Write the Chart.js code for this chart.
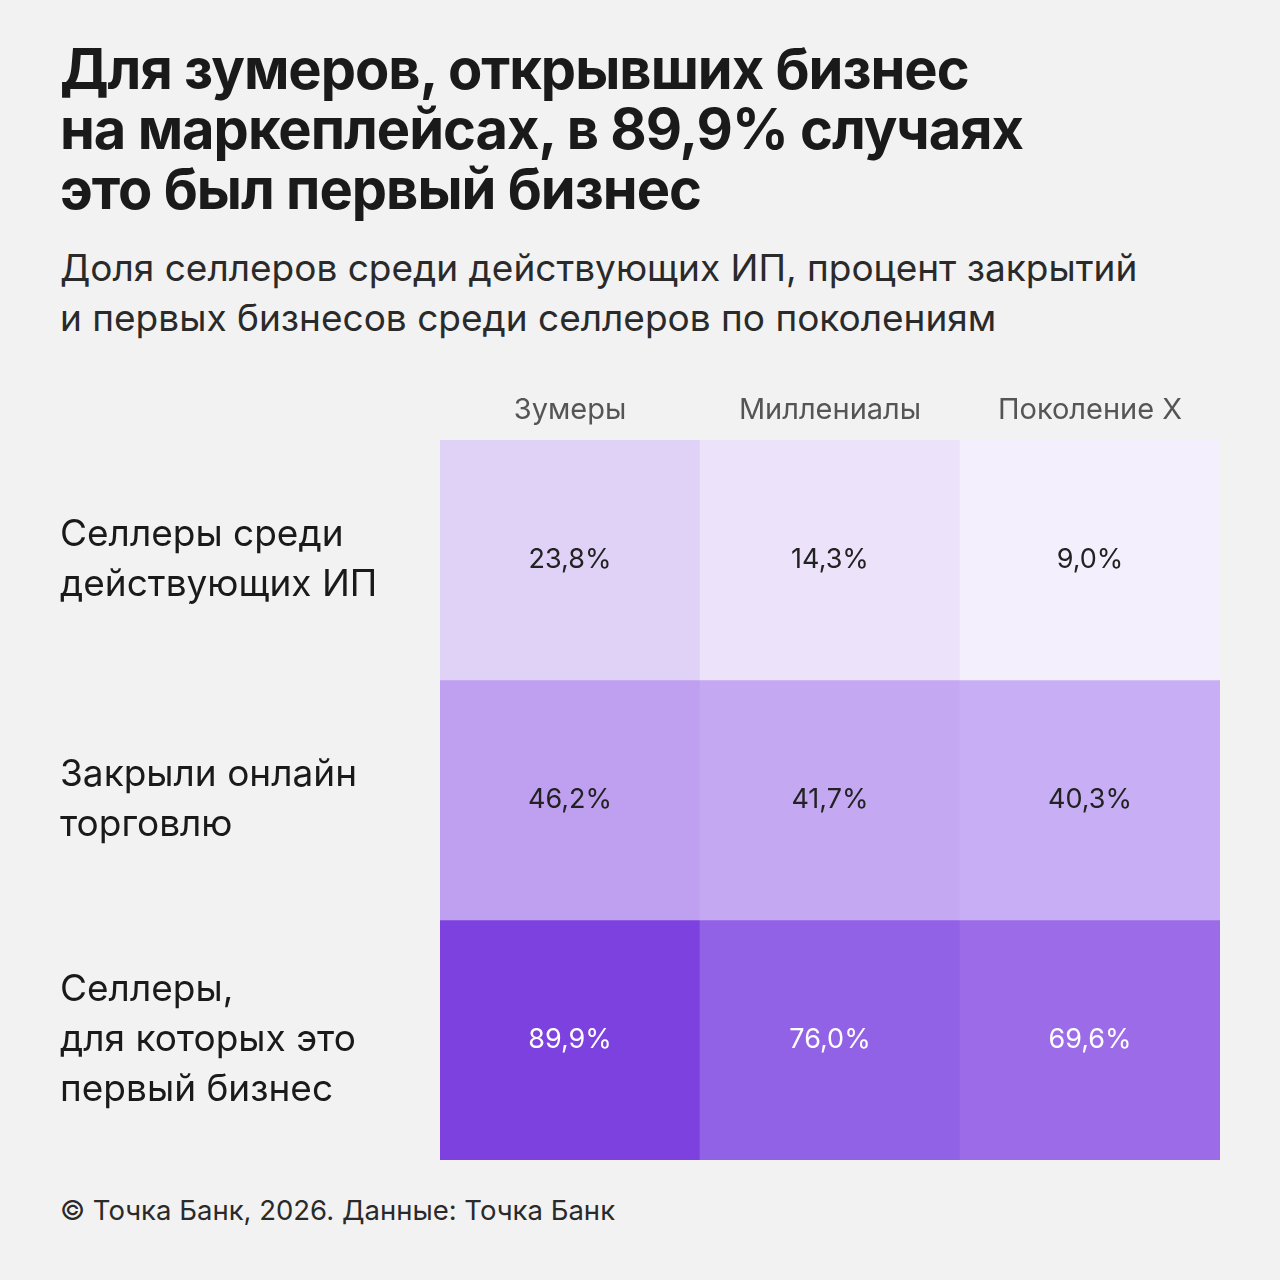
<!DOCTYPE html>
<html lang="ru">
<head>
<meta charset="utf-8">
<script src="https://cdn.jsdelivr.net/npm/chart.js@4"></script>
<style>
  html, body { margin: 0; padding: 0; background: #f2f2f2; }
  body { width: 1280px; height: 1280px; position: relative; overflow: hidden; font-family: Inter, "Noto Sans", sans-serif; color: #1a1a1a; }
  h1 { position: absolute; left: 60px; top: 39px; margin: 0; font-size: 56px; line-height: 60px; font-weight: 700; letter-spacing: -1px; }
  .sub { position: absolute; left: 60px; top: 243px; margin: 0; font-size: 37px; line-height: 50px; font-weight: 400; color: #2a2a2a; }
  .foot { position: absolute; left: 60px; top: 1190px; font-size: 27.5px; line-height: 40px; color: #2a2a2a; }
  #wrap { position: absolute; left: 0; top: 380px; width: 1280px; height: 780px; }
</style>
</head>
<body>
<h1>Для зумеров, открывших бизнес<br>на маркеплейсах, в 89,9% случаях<br>это был первый бизнес</h1>
<p class="sub">Доля селлеров среди действующих ИП, процент закрытий<br>и первых бизнесов среди селлеров по поколениям</p>
<div id="wrap"><canvas id="heat"></canvas></div>
<div class="foot">© Точка Банк, 2026. Данные: Точка Банк</div>
<script>
const generations = ['Зумеры', 'Миллениалы', 'Поколение X'];
const rowLabels = [
  ['Селлеры среди', 'действующих ИП'],
  ['Закрыли онлайн', 'торговлю'],
  ['Селлеры,', 'для которых это', 'первый бизнес']
];
const sellersShare = [23.8, 14.3, 9.0];
const closedShare = [46.2, 41.7, 40.3];
const firstBusiness = [89.9, 76.0, 69.6];
const rowColors = [
  ['#e0d1f7', '#ece3fa', '#f3effc'],
  ['#bf9ff0', '#c5a8f2', '#c8aef4'],
  ['#7c41de', '#9262e6', '#9c6ce8']
];
const textColors = ['#222222', '#222222', '#ffffff'];

const rows = [sellersShare, closedShare, firstBusiness];
const fmt = v => v.toFixed(1).replace('.', ',') + '%';

const cellLabels = {
  id: 'cellLabels',
  afterDatasetsDraw(chart) {
    const ctx = chart.ctx;
    ctx.save();
    ctx.font = '400 27px Inter, "Noto Sans", sans-serif';
    ctx.textAlign = 'center';
    ctx.textBaseline = 'middle';
    chart.data.datasets.forEach((ds, i) => {
      chart.getDatasetMeta(i).data.forEach((bar, j) => {
        const y = (bar.y + bar.base) / 2;
        ctx.fillStyle = textColors[i];
        ctx.fillText(fmt(rows[i][j]), bar.x, y);
      });
    });
    ctx.restore();
  }
};

new Chart(document.getElementById('heat'), {
  type: 'bar',
  data: {
    labels: generations,
    datasets: rows.map((vals, i) => ({
      label: rowLabels[i].join(' '),
      data: vals.map(() => 1),
      backgroundColor: rowColors[i],
      borderWidth: 0,
      barPercentage: 1,
      categoryPercentage: 1
    }))
  },
  options: {
    responsive: true,
    maintainAspectRatio: false,
    animation: false,
    layout: { padding: { left: 60, right: 60, top: 0, bottom: 0 } },
    plugins: { legend: { display: false }, tooltip: { enabled: false } },
    scales: {
      x: {
        position: 'top',
        stacked: true,
        grid: { display: false, drawTicks: false },
        border: { display: false },
        ticks: { color: '#555555', font: { size: 29, family: 'Inter, "Noto Sans", sans-serif' }, padding: 12 },
        afterFit(scale) { scale.height = 60; scale.paddingLeft = 0; scale.paddingRight = 0; }
      },
      y: {
        stacked: true,
        reverse: true,
        min: 0,
        max: 3,
        grid: { display: false, drawTicks: false },
        border: { display: false },
        afterBuildTicks(scale) { scale.ticks = [{ value: 0.5 }, { value: 1.5 }, { value: 2.5 }]; },
        afterFit(scale) { scale.width = 380; scale.paddingTop = 0; scale.paddingBottom = 0; },
        ticks: {
          crossAlign: 'far',
          color: '#1a1a1a',
          font: { size: 37, lineHeight: 1.35, family: 'Inter, "Noto Sans", sans-serif' },
          callback: (v) => rowLabels[Math.floor(v)]
        }
      }
    }
  },
  plugins: [cellLabels]
});
</script>
</body>
</html>
